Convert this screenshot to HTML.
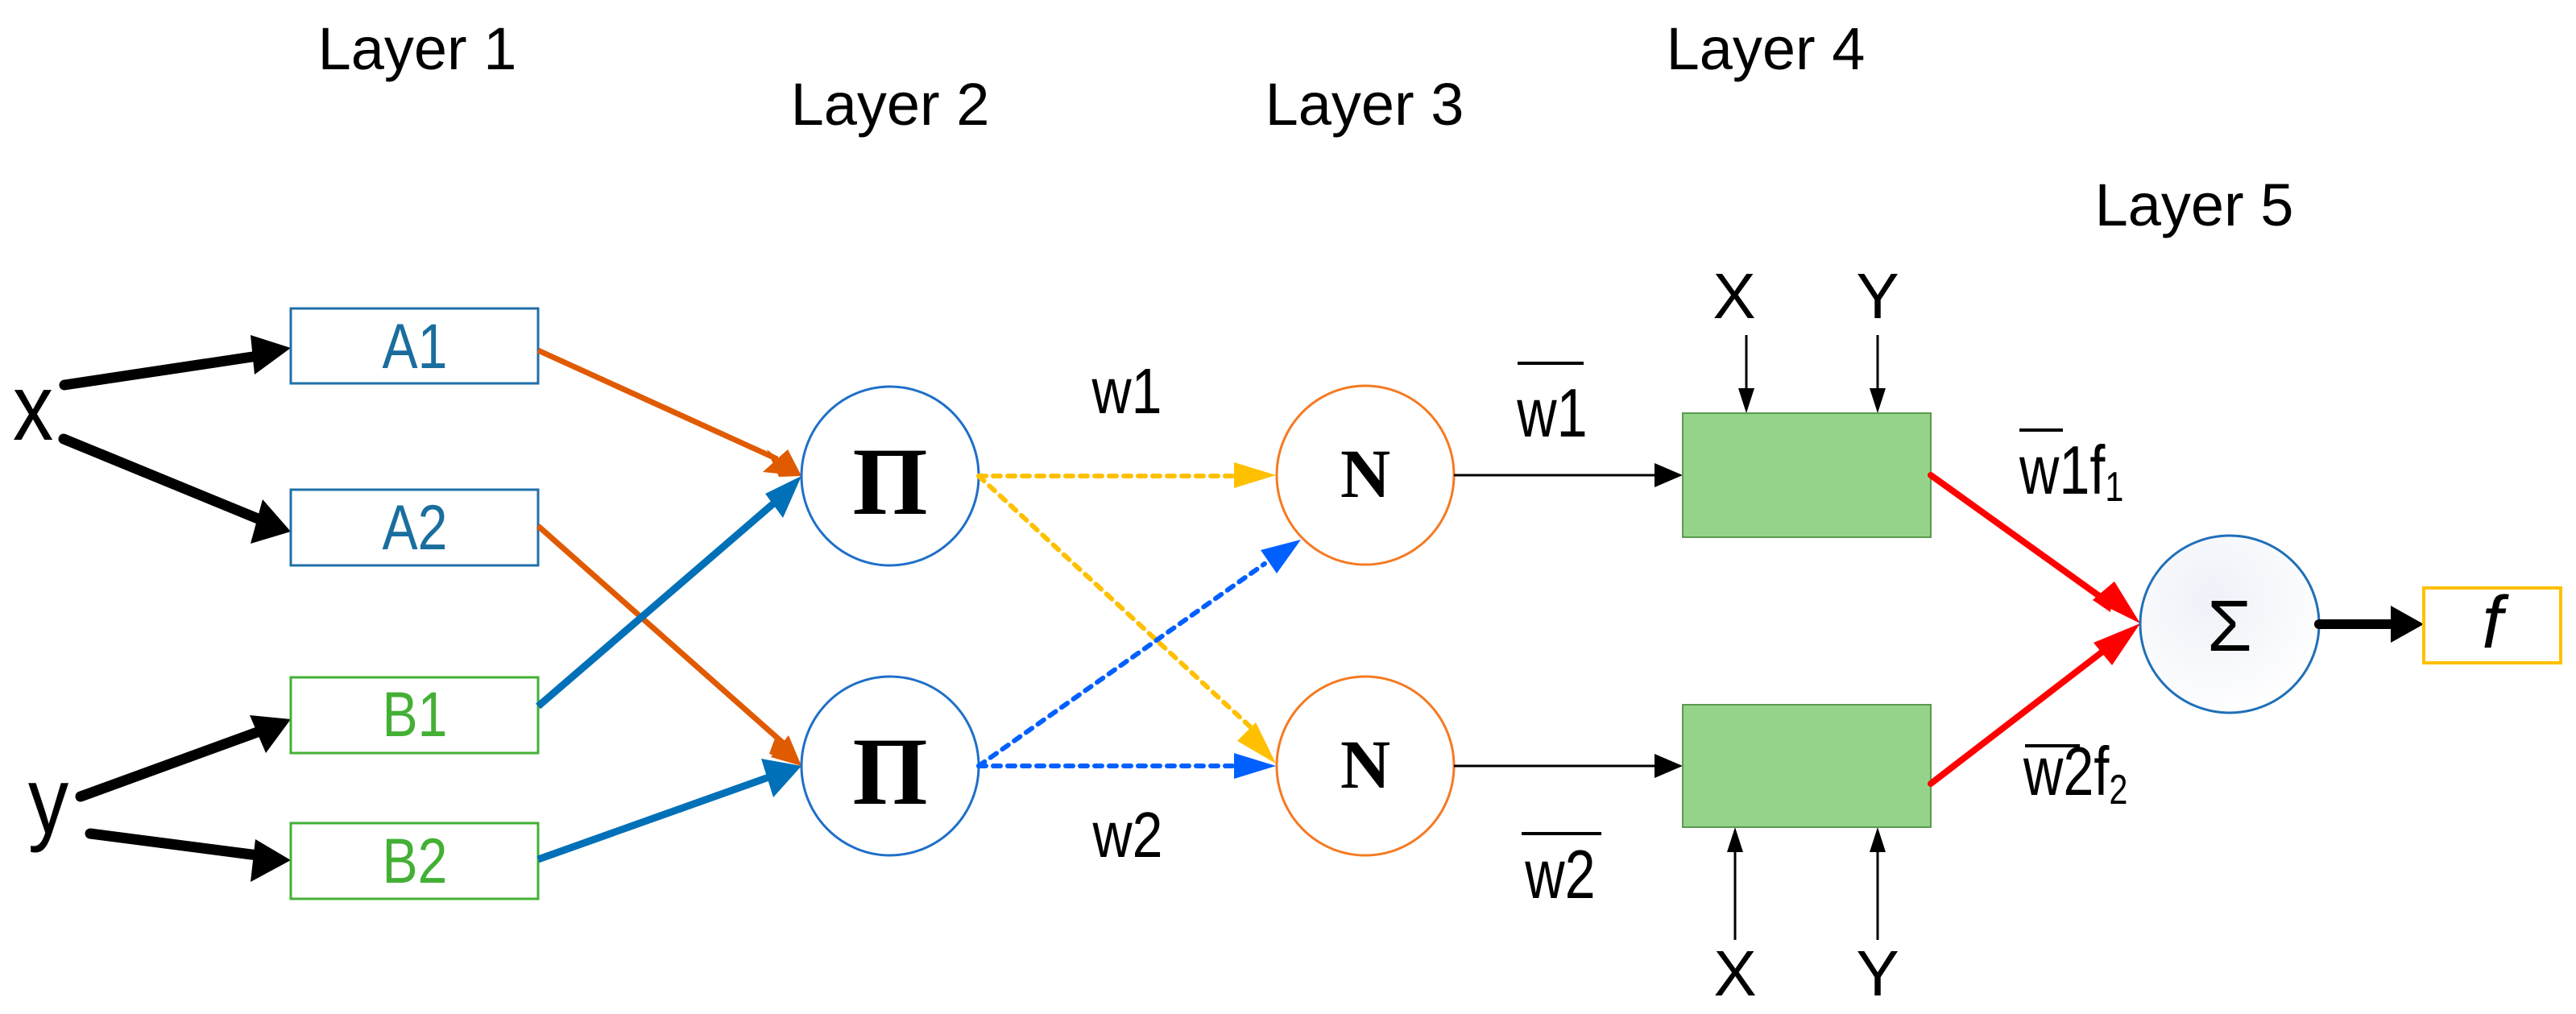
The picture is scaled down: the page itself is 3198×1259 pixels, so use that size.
<!DOCTYPE html>
<html><head><meta charset="utf-8"><style>
html,body{margin:0;padding:0;background:#fff;}
svg{display:block;}
text{font-family:"Liberation Sans",Arial,sans-serif;}
.s{font-family:"Liberation Serif","Times New Roman",serif;font-weight:bold;}
</style></head><body>
<svg width="3198" height="1259" viewBox="0 0 3198 1259" xmlns="http://www.w3.org/2000/svg">
<defs>
<radialGradient id="sg" cx="0.4" cy="0.35" r="0.7"><stop offset="0" stop-color="#eef1f8"/><stop offset="1" stop-color="#ffffff"/></radialGradient>
</defs>
<g font-size="74" fill="#000" text-anchor="middle">
<text x="518" y="86">Layer 1</text>
<text x="1105" y="155">Layer 2</text>
<text x="1694" y="155">Layer 3</text>
<text x="2192" y="86">Layer 4</text>
<text x="2724" y="280">Layer 5</text>
</g>
<text transform="translate(41,546) scale(0.95,1.1)" font-size="106" text-anchor="middle">x</text>
<text transform="translate(60,1034) scale(0.95,1.1)" font-size="106" text-anchor="middle">y</text>
<g stroke="#000" stroke-width="13" stroke-linecap="round" fill="none">
<line x1="80" y1="478" x2="320" y2="442"/>
<line x1="79" y1="545" x2="325" y2="646"/>
<line x1="100" y1="989" x2="325" y2="907"/>
<line x1="112" y1="1035" x2="320" y2="1062"/>
</g>
<g fill="#000">
<polygon points="361,432 311,416 316,465"/>
<polygon points="361,660 326,620 311,675"/>
<polygon points="361,893 310,888 330,935"/>
<polygon points="361,1068 317,1042 311,1095"/>
</g>
<g fill="#fff" stroke-width="3">
<rect x="361" y="383" width="307" height="93" stroke="#1f6fa8"/>
<rect x="361" y="608" width="307" height="94" stroke="#1f6fa8"/>
<rect x="361" y="841" width="307" height="94" stroke="#43b035"/>
<rect x="361" y="1022" width="307" height="94" stroke="#43b035"/>
</g>
<g font-size="72" text-anchor="middle">
<text transform="translate(515,457) scale(0.92,1.1)" fill="#1a6e9e">A1</text>
<text transform="translate(515,682) scale(0.92,1.1)" fill="#1a6e9e">A2</text>
<text transform="translate(515,914) scale(0.92,1.1)" fill="#43b035">B1</text>
<text transform="translate(515,1096) scale(0.92,1.1)" fill="#43b035">B2</text>
</g>
<g stroke-width="7" fill="none">
<line x1="668" y1="435" x2="965" y2="570" stroke="#e05a00"/>
<line x1="668" y1="653" x2="975" y2="925" stroke="#e05a00"/>
<line x1="668" y1="877" x2="972" y2="615" stroke="#0070b8" stroke-width="9"/>
<line x1="668" y1="1067" x2="960" y2="963" stroke="#0070b8" stroke-width="9"/>
</g>
<polygon points="995,591 952,558 967,592" fill="#e05a00"/>
<polygon points="995,591 947,586 978,558" fill="#e05a00"/>
<polygon points="995,951 963,914 955,936" fill="#e05a00"/>
<polygon points="995,951 957,940 979,913" fill="#e05a00"/>
<polygon points="995,591 950,613 972,643" fill="#0070b8"/>
<polygon points="995,951 945,942 960,990" fill="#0070b8"/>
<ellipse cx="1105" cy="591" rx="110" ry="111" fill="#fff" stroke="#1f6fc8" stroke-width="3"/>
<ellipse cx="1105" cy="951" rx="110" ry="111" fill="#fff" stroke="#1f6fc8" stroke-width="3"/>
<text class="s" x="1105" y="638" font-size="120" text-anchor="middle">Π</text>
<text class="s" x="1105" y="998" font-size="120" text-anchor="middle">Π</text>
<g stroke-width="6" stroke-dasharray="9,9" stroke-linecap="round" fill="none">
<line x1="1215" y1="591" x2="1535" y2="591" stroke="#ffc000"/>
<line x1="1215" y1="591" x2="1555" y2="905" stroke="#ffc000"/>
<line x1="1215" y1="951" x2="1570" y2="700" stroke="#0060ff"/>
<line x1="1215" y1="951" x2="1535" y2="951" stroke="#0060ff"/>
</g>
<polygon points="1584,590 1532,574 1532,606" fill="#ffc000"/>
<polygon points="1584,948 1559,897 1536,920" fill="#ffc000"/>
<polygon points="1615,670 1565,683 1585,712" fill="#0060ff"/>
<polygon points="1584,951 1532,935 1532,967" fill="#0060ff"/>
<text transform="translate(1399,513) scale(0.92,1.08)" font-size="74" text-anchor="middle">w1</text>
<text transform="translate(1400,1064) scale(0.92,1.08)" font-size="74" text-anchor="middle">w2</text>
<ellipse cx="1695" cy="590" rx="110" ry="111" fill="#fff" stroke="#f57a22" stroke-width="3"/>
<ellipse cx="1695" cy="951" rx="110" ry="111" fill="#fff" stroke="#f57a22" stroke-width="3"/>
<text class="s" x="1695" y="617" font-size="86" text-anchor="middle">N</text>
<text class="s" x="1695" y="978" font-size="86" text-anchor="middle">N</text>
<g stroke="#000" stroke-width="3">
<line x1="1805" y1="590" x2="2065" y2="590"/>
<line x1="1805" y1="951" x2="2065" y2="951"/>
<line x1="2168" y1="416" x2="2168" y2="490"/>
<line x1="2331" y1="416" x2="2331" y2="490"/>
<line x1="2154" y1="1167" x2="2154" y2="1052"/>
<line x1="2331" y1="1167" x2="2331" y2="1052"/>
</g>
<g fill="#000">
<polygon points="2089,590 2054,575 2054,605"/>
<polygon points="2089,951 2054,936 2054,966"/>
<polygon points="2168,513 2158,482 2178,482"/>
<polygon points="2331,513 2321,482 2341,482"/>
<polygon points="2154,1027 2144,1058 2164,1058"/>
<polygon points="2331,1027 2321,1058 2341,1058"/>
</g>
<line x1="1884" y1="451" x2="1966" y2="451" stroke="#000" stroke-width="4"/>
<text transform="translate(1927,542) scale(0.9,1.12)" font-size="76" text-anchor="middle">w1</text>
<line x1="1889" y1="1035" x2="1988" y2="1035" stroke="#000" stroke-width="4"/>
<text transform="translate(1937,1115) scale(0.9,1.12)" font-size="76" text-anchor="middle">w2</text>
<g font-size="80" text-anchor="middle">
<text x="2153" y="395">X</text>
<text x="2331" y="395">Y</text>
<text x="2154" y="1236">X</text>
<text x="2331" y="1236">Y</text>
</g>
<rect x="2089" y="513" width="308" height="154" fill="#96d38a" stroke="#5a9a4e" stroke-width="2"/>
<rect x="2089" y="875" width="308" height="152" fill="#96d38a" stroke="#5a9a4e" stroke-width="2"/>
<g stroke="#ff0000" stroke-width="8" stroke-linecap="round">
<line x1="2397" y1="590" x2="2620" y2="750"/>
<line x1="2397" y1="973" x2="2622" y2="800"/>
</g>
<polygon points="2657,774 2598,745 2625,722" fill="#ff0000"/>
<polygon points="2598,745 2625,722 2620,760" fill="#ff0000"/>
<polygon points="2657,774 2599,798 2622,826" fill="#ff0000"/>
<line x1="2507" y1="534" x2="2561" y2="534" stroke="#000" stroke-width="4"/>
<text transform="translate(2507,613) scale(0.9,1.12)" font-size="76">w1f<tspan font-size="46" dy="8">1</tspan></text>
<line x1="2514" y1="926" x2="2582" y2="926" stroke="#000" stroke-width="4"/>
<text transform="translate(2512,987) scale(0.9,1.12)" font-size="76">w2f<tspan font-size="46" dy="10">2</tspan></text>
<ellipse cx="2768" cy="775" rx="111" ry="110" fill="url(#sg)" stroke="#1f6fb8" stroke-width="3"/>
<text x="2768" y="808" font-size="90" text-anchor="middle">Σ</text>
<line x1="2879" y1="775" x2="2975" y2="775" stroke="#000" stroke-width="12" stroke-linecap="round"/>
<polygon points="3009,775 2968,752 2968,798" fill="#000"/>
<rect x="3009" y="730" width="170" height="93" fill="#fff" stroke="#ffc000" stroke-width="4"/>
<text x="3094" y="804" font-size="92" text-anchor="middle" font-family="Liberation Serif,serif" font-style="italic">f</text>
</svg>
</body></html>
